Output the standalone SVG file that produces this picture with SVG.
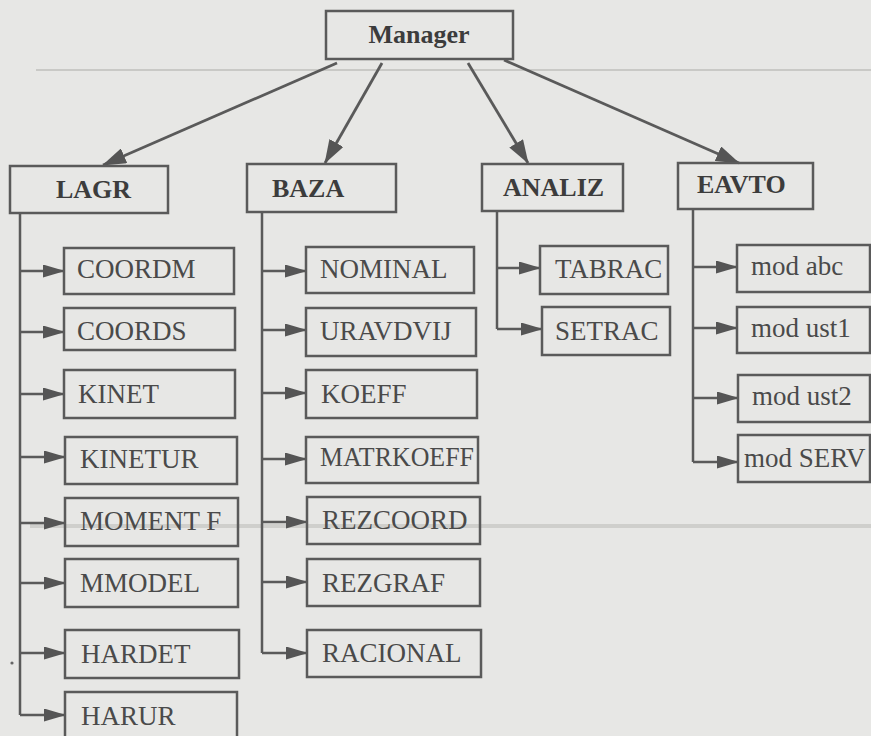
<svg xmlns="http://www.w3.org/2000/svg" width="871" height="736" viewBox="0 0 871 736">
<defs>
<marker id="ah" markerUnits="userSpaceOnUse" markerWidth="22" markerHeight="13" refX="21" refY="6.5" orient="auto">
<path d="M0,0 L22,6.5 L0,13 Z" fill="#555"/>
</marker>
<marker id="ahBig" markerUnits="userSpaceOnUse" markerWidth="24" markerHeight="16" refX="23" refY="8" orient="auto">
<path d="M0,0 L24,8 L0,16 Z" fill="#555"/>
</marker>
<style>
.box{fill:none;stroke:#5a5a5a;stroke-width:2.5}
.top{font-family:"Liberation Serif","Times New Roman",serif;font-weight:bold;font-size:26px;fill:#3c3c3c}
.sub{font-family:"Liberation Serif","Times New Roman",serif;font-size:27px;fill:#4a4a4a}
.trunk{fill:none;stroke:#5a5a5a;stroke-width:2.5}
.br{stroke:#5a5a5a;stroke-width:2.5;marker-end:url(#ah)}
.main{stroke:#5a5a5a;stroke-width:2.8;marker-end:url(#ahBig)}
.scan{stroke:#c9c9c6;fill:none}
</style>
</defs>
<rect width="871" height="736" fill="#e7e7e5"/>
<line class="scan" x1="36" y1="70" x2="871" y2="70" stroke-width="2"/>
<line class="scan" x1="30" y1="526" x2="871" y2="526" stroke-width="4" opacity="0.8"/>
<circle cx="12" cy="663" r="1.6" fill="#666"/>

<g id="connectors">
<line class="main" x1="337" y1="63" x2="103" y2="165"/>
<line class="main" x1="382" y1="63" x2="325" y2="163"/>
<line class="main" x1="468" y1="63" x2="528" y2="163"/>
<line class="main" x1="504" y1="60" x2="739" y2="163"/>
<polyline class="trunk" points="20,213 20,715"/>
<line class="br" x1="20" y1="271" x2="64" y2="271"/>
<line class="br" x1="20" y1="332" x2="64" y2="332"/>
<line class="br" x1="20" y1="394" x2="64" y2="394"/>
<line class="br" x1="20" y1="457" x2="65" y2="457"/>
<line class="br" x1="20" y1="523" x2="65" y2="523"/>
<line class="br" x1="20" y1="583" x2="65" y2="583"/>
<line class="br" x1="20" y1="653" x2="65" y2="653"/>
<line class="br" x1="20" y1="715" x2="65" y2="715"/>
<polyline class="trunk" points="262,212 262,653"/>
<line class="br" x1="262" y1="271" x2="306" y2="271"/>
<line class="br" x1="262" y1="330" x2="306" y2="330"/>
<line class="br" x1="262" y1="393" x2="306" y2="393"/>
<line class="br" x1="262" y1="459" x2="306" y2="459"/>
<line class="br" x1="262" y1="522" x2="307" y2="522"/>
<line class="br" x1="262" y1="582" x2="307" y2="582"/>
<line class="br" x1="262" y1="653" x2="307" y2="653"/>
<polyline class="trunk" points="497,211 497,329"/>
<line class="br" x1="497" y1="268" x2="540" y2="268"/>
<line class="br" x1="497" y1="329" x2="542" y2="329"/>
<polyline class="trunk" points="693,209 693,462"/>
<line class="br" x1="693" y1="267" x2="737" y2="267"/>
<line class="br" x1="693" y1="328" x2="737" y2="328"/>
<line class="br" x1="693" y1="398" x2="738" y2="398"/>
<line class="br" x1="693" y1="462" x2="738" y2="462"/>
</g>

<g id="manager"><rect class="box" x="326" y="11" width="187" height="48"/><text class="top" x="419" y="43" text-anchor="middle" font-size="27">Manager</text></g>

<g id="lagr"><rect class="box" x="10" y="166" width="158" height="47"/><text class="top" x="56" y="198">LAGR</text></g>
<g id="baza"><rect class="box" x="247" y="164" width="149" height="48"/><text class="top" x="272" y="197">BAZA</text></g>
<g id="analiz"><rect class="box" x="482" y="164" width="141" height="47"/><text class="top" x="503" y="196">ANALIZ</text></g>
<g id="eavto"><rect class="box" x="678" y="163" width="135" height="46"/><text class="top" x="697" y="193">EAVTO</text></g>

<g id="coordm"><rect class="box" x="64" y="248" width="170" height="46"/><text class="sub" x="77" y="278">COORDM</text></g>
<g id="coords"><rect class="box" x="64" y="308" width="171" height="42"/><text class="sub" x="77" y="340">COORDS</text></g>
<g id="kinet"><rect class="box" x="64" y="370" width="171" height="48"/><text class="sub" x="78" y="403">KINET</text></g>
<g id="kinetur"><rect class="box" x="65" y="437" width="172" height="47"/><text class="sub" x="80" y="468">KINETUR</text></g>
<g id="momentf"><rect class="box" x="65" y="498" width="173" height="48"/><text class="sub" x="80" y="530">MOMENT F</text></g>
<g id="mmodel"><rect class="box" x="65" y="559" width="173" height="48"/><text class="sub" x="80" y="592">MMODEL</text></g>
<g id="hardet"><rect class="box" x="65" y="630" width="174" height="48"/><text class="sub" x="81" y="663">HARDET</text></g>
<g id="harur"><rect class="box" x="65" y="692" width="172" height="50"/><text class="sub" x="81" y="725">HARUR</text></g>

<g id="nominal"><rect class="box" x="306" y="247" width="168" height="46"/><text class="sub" x="320" y="278">NOMINAL</text></g>
<g id="uravdvij"><rect class="box" x="306" y="308" width="170" height="48"/><text class="sub" x="320" y="340">URAVDVIJ</text></g>
<g id="koeff"><rect class="box" x="306" y="370" width="171" height="48"/><text class="sub" x="321" y="403">KOEFF</text></g>
<g id="matrkoeff"><rect class="box" x="306" y="437" width="172" height="46"/><text class="sub" x="320" y="466" textLength="154" lengthAdjust="spacingAndGlyphs">MATRKOEFF</text></g>
<g id="rezcoord"><rect class="box" x="307" y="497" width="173" height="47"/><text class="sub" x="322" y="529">REZCOORD</text></g>
<g id="rezgraf"><rect class="box" x="307" y="559" width="173" height="47"/><text class="sub" x="322" y="592">REZGRAF</text></g>
<g id="racional"><rect class="box" x="307" y="630" width="174" height="47"/><text class="sub" x="322" y="662">RACIONAL</text></g>

<g id="tabrac"><rect class="box" x="540" y="246" width="128" height="48"/><text class="sub" x="555" y="278">TABRAC</text></g>
<g id="setrac"><rect class="box" x="542" y="307" width="128" height="48"/><text class="sub" x="555" y="340">SETRAC</text></g>

<g id="modabc"><rect class="box" x="737" y="245" width="133" height="47"/><text class="sub" x="751" y="275">mod abc</text></g>
<g id="modust1"><rect class="box" x="737" y="307" width="133" height="46"/><text class="sub" x="751" y="337">mod ust1</text></g>
<g id="modust2"><rect class="box" x="738" y="375" width="132" height="47"/><text class="sub" x="752" y="405">mod ust2</text></g>
<g id="modserv"><rect class="box" x="738" y="435" width="132" height="47"/><text class="sub" x="744" y="467" font-size="26">mod SERV</text></g>
</svg>
